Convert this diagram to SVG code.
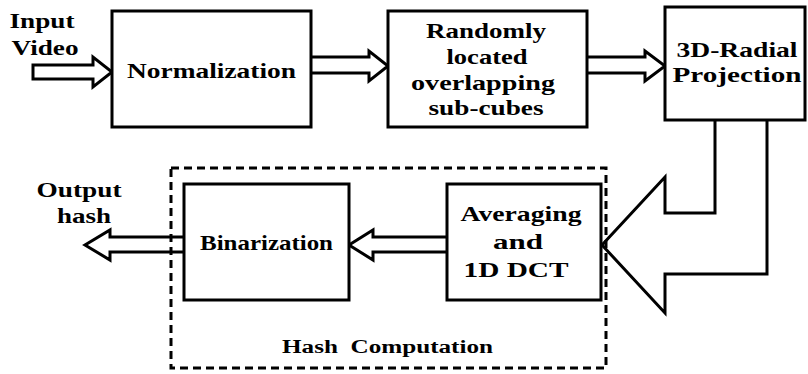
<svg xmlns="http://www.w3.org/2000/svg" width="808" height="374" viewBox="0 0 808 374">
  <style>
    .box { fill: #ffffff; stroke: #000000; stroke-width: 3; }
    .arrow { fill: #ffffff; stroke: #000000; stroke-width: 3; stroke-linejoin: miter; }
    .group { fill: none; stroke: #000000; stroke-width: 3; stroke-dasharray: 8 5; }
    text { font-family: "Liberation Serif", "Times New Roman", Times, serif; font-weight: 700; font-size: 21px; fill: #000000; text-anchor: middle; }
    .cap { font-size: 18px; }
  </style>

  <!-- connectors: hollow block arrows -->
  <g id="connectors">
    <path class="arrow" d="M33,65 H93 V57 L112,72 L93,87 V79 H33 Z"/>
    <path class="arrow" d="M311,57 H369 V51 L388,66 L369,81 V73 H311"/>
    <path class="arrow" d="M587,57 H645 V51 L665,66 L645,81 V73 H587"/>
    <path class="arrow" d="M715,120 V213 H665 V177 L602,245 L665,313 V274 H767 V120"/>
    <path class="arrow" d="M447,237 H373 V230 L349,245 L373,260 V252 H447"/>
    <path class="arrow" d="M184,237 H110 V230 L85,245 L110,260 V252 H184"/>
  </g>

  <g id="input-label">
    <text x="42" y="28" textLength="65" lengthAdjust="spacingAndGlyphs">Input</text>
    <text x="45" y="55" textLength="67" lengthAdjust="spacingAndGlyphs">Video</text>
  </g>

  <g id="normalization">
    <rect class="box" x="112" y="11" width="199" height="116"/>
    <text x="211.5" y="78" textLength="169" lengthAdjust="spacingAndGlyphs">Normalization</text>
  </g>

  <g id="subcubes">
    <rect class="box" x="388" y="11" width="199" height="116"/>
    <text x="486" y="38" textLength="120" lengthAdjust="spacingAndGlyphs">Randomly</text>
    <text x="487" y="64" textLength="81" lengthAdjust="spacingAndGlyphs">located</text>
    <text x="483" y="90" textLength="144" lengthAdjust="spacingAndGlyphs">overlapping</text>
    <text x="486" y="115" textLength="115" lengthAdjust="spacingAndGlyphs">sub-cubes</text>
  </g>

  <g id="radial-projection">
    <rect class="box" x="665" y="7" width="140" height="113"/>
    <text x="737" y="57" textLength="121" lengthAdjust="spacingAndGlyphs">3D-Radial</text>
    <text x="737" y="82" textLength="129" lengthAdjust="spacingAndGlyphs">Projection</text>
  </g>

  <g id="averaging-dct">
    <rect class="box" x="447" y="184" width="154" height="116"/>
    <text x="521" y="221" textLength="121" lengthAdjust="spacingAndGlyphs">Averaging</text>
    <text x="518" y="249" textLength="50" lengthAdjust="spacingAndGlyphs">and</text>
    <text x="516" y="277" textLength="105" lengthAdjust="spacingAndGlyphs">1D DCT</text>
  </g>

  <g id="binarization">
    <rect class="box" x="184" y="184" width="165" height="116"/>
    <text x="266.5" y="250" textLength="133" lengthAdjust="spacingAndGlyphs">Binarization</text>
  </g>

  <g id="output-label">
    <text x="79" y="197" textLength="85" lengthAdjust="spacingAndGlyphs">Output</text>
    <text x="84" y="223" textLength="54" lengthAdjust="spacingAndGlyphs">hash</text>
  </g>

  <g id="hash-computation">
    <rect class="group" x="171" y="168" width="435" height="200"/>
    <text class="cap" x="387.5" y="353" textLength="211" lengthAdjust="spacingAndGlyphs" xml:space="preserve">Hash  Computation</text>
  </g>
</svg>
